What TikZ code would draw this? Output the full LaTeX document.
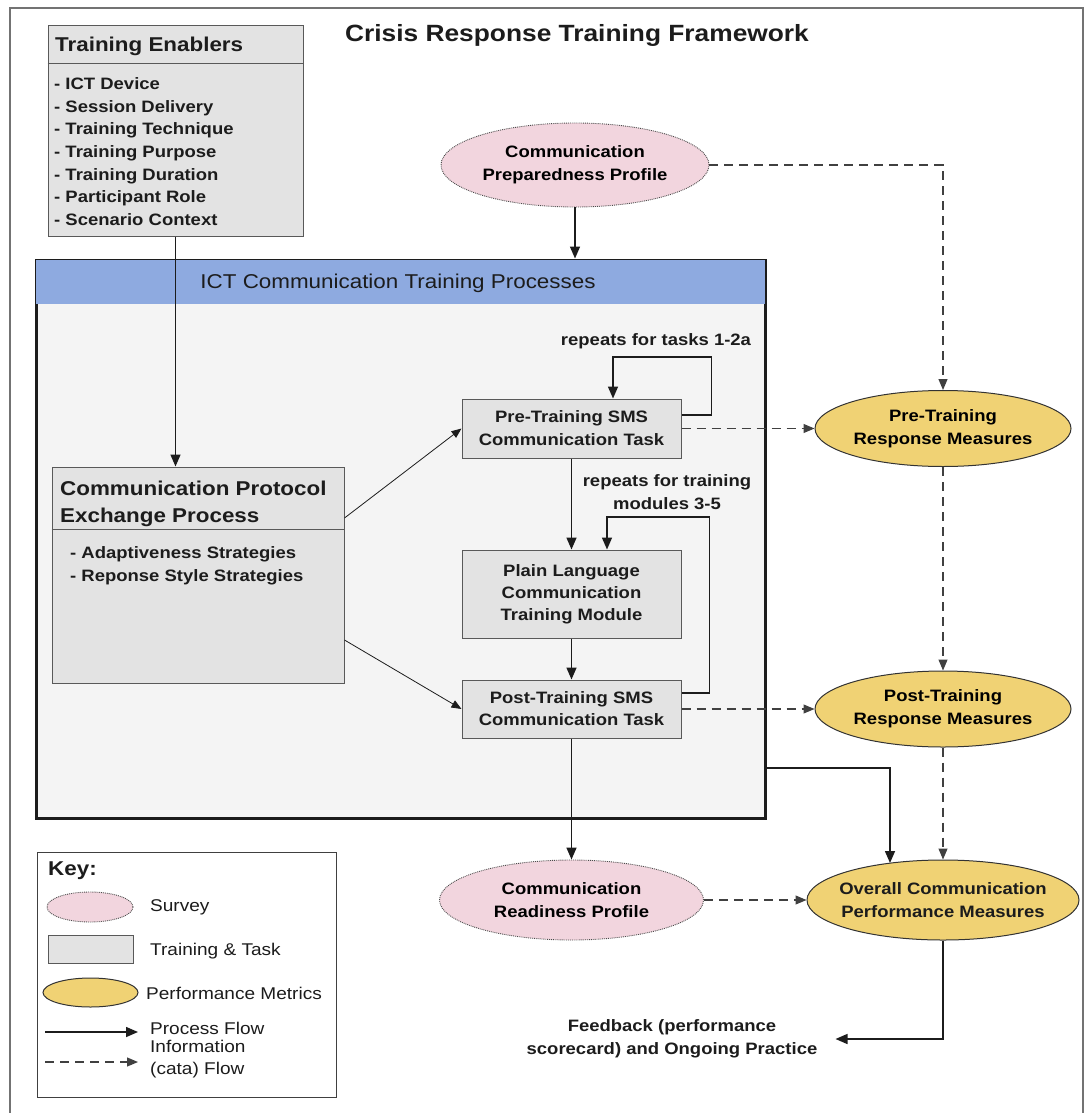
\documentclass[tikz,border=0pt]{standalone}
\usepackage{fontspec}
\setmainfont[FakeStretch=1.12]{Liberation Sans}
\usetikzlibrary{shapes.geometric,arrows.meta}

\definecolor{boxgray}{HTML}{E3E3E3}
\definecolor{panelgray}{HTML}{F4F4F4}
\definecolor{bandblue}{HTML}{8EAAE0}
\definecolor{surveypink}{HTML}{F2D5DE}
\definecolor{metricyellow}{HTML}{F0D274}
\definecolor{ink}{HTML}{1C1C1C}

\newcommand\bodyfnt{\bfseries\fontsize{16.5}{23}\selectfont}
\newcommand\keyfnt{\fontsize{17}{22}\selectfont}

\tikzset{
  graybox/.style={rectangle, draw=black!65, line width=1pt, fill=boxgray, inner sep=0pt},
  survey/.style={ellipse, draw=black!70, densely dotted, line width=0.9pt, fill=surveypink, inner sep=0pt, align=center, font=\bodyfnt},
  metric/.style={ellipse, draw=black!80, line width=1pt, fill=metricyellow, inner sep=0pt, align=center, font=\bodyfnt},
  boxtext/.style={align=center, font=\bodyfnt, text=ink},
  flow/.style={draw=ink, line width=1.5pt, -{Triangle[length=12pt,width=10pt]}},
  thinflow/.style={draw=ink, line width=0.8pt, -{Triangle[length=10pt,width=8pt]}},
  info/.style={draw=black!75, line width=1.1pt, dash pattern=on 9pt off 6pt, -{Triangle[length=11pt,width=9pt]}},
  plain/.style={inner sep=0pt, text=ink},
}

\begin{document}
\begin{tikzpicture}[x=1pt,y=-1pt]
\useasboundingbox (0,0) rectangle (1089,1113);

% page frame
\draw[black!55, line width=1.2pt] (10,1113) -- (10,8) -- (1083,8) -- (1083,1113);

% title
\node[plain, font=\bfseries\fontsize{23.5}{27}\selectfont] (title) at (577,35) {Crisis Response Training Framework};

% training enablers
\node[graybox, minimum width=255, minimum height=210] (te) at (175.5,131) {};
\draw[black!65, line width=1pt] ([yshift=-38]te.north west) -- ([yshift=-38]te.north east);
\node[plain, anchor=base west, font=\bfseries\fontsize{20}{24}\selectfont] (tehead) at (55,52) {Training Enablers};
\foreach \t [count=\i] in {ICT Device, Session Delivery, Training Technique, Training Purpose, Training Duration, Participant Role, Scenario Context}
  \node[plain, anchor=base west, font=\bodyfnt] (te\i) at (54,{67.5+22.5*\i}) {- \t};

% preparedness survey
\node[survey, minimum width=268, minimum height=84] (prep) at (575,165) {Communication\\Preparedness Profile};

% ICT processes panel
\node[rectangle, draw=ink, line width=3pt, fill=panelgray, minimum width=729, minimum height=558, inner sep=0pt] (ict) at (400.5,539) {};
\fill[bandblue] ([xshift=1.5pt,yshift=-1.5pt]ict.north west) rectangle ([xshift=-1.5pt,yshift=-45]ict.north east);
\node[plain, font=\fontsize{20}{24}\selectfont] (icthead) at (398,283) {ICT Communication Training Processes};

% protocol exchange process
\node[graybox, minimum width=292, minimum height=216] (cpep) at (198,575) {};
\draw[black!65, line width=1pt] ([yshift=-63]cpep.north west) -- ([yshift=-63]cpep.north east);
\node[plain, anchor=base west, font=\bfseries\fontsize{20}{27}\selectfont] (cpeph1) at (60,495) {Communication Protocol};
\node[plain, anchor=base west, font=\bfseries\fontsize{20}{27}\selectfont] (cpeph2) at (60,522) {Exchange Process};
\node[plain, anchor=base west, font=\bodyfnt] (cpepl1) at (70,558) {- Adaptiveness Strategies};
\node[plain, anchor=base west, font=\bodyfnt] (cpepl2) at (70,581) {- Reponse Style Strategies};

% tasks and module
\node[graybox, boxtext, minimum width=219, minimum height=59] (pre) at (571.5,428.5) {Pre-Training SMS\\Communication Task};
\node[graybox, boxtext, minimum width=219, minimum height=88, font=\bfseries\fontsize{16.5}{22}\selectfont] (plainmod) at (571.5,594) {Plain Language\\Communication\\Training Module};
\node[graybox, boxtext, minimum width=219, minimum height=58, font=\bfseries\fontsize{16.5}{22}\selectfont] (post) at (571.5,709) {Post-Training SMS\\Communication Task};

% performance measures
\node[metric, minimum width=256, minimum height=76] (prem) at (943,428.5) {Pre-Training\\Response Measures};
\node[metric, minimum width=256, minimum height=76] (postm) at (943,709) {Post-Training\\Response Measures};
\node[metric, minimum width=272, minimum height=80] (overall) at (943,900) {};
\node[boxtext, inner sep=0pt] (overallt) at (overall.center) {Overall Communication\\Performance Measures};
\node[survey, minimum width=264, minimum height=80] (ready) at (571.5,900) {Communication\\Readiness Profile};

% loop labels
\node[boxtext] (lab1) at (656,341) {repeats for tasks 1-2a};
\node[boxtext] (lab2) at (667,492) {repeats for training\\modules 3-5};

% feedback
\node[boxtext, inner xsep=18pt, inner ysep=2pt] (fb) at (672,1039) {Feedback (performance\\scorecard) and Ongoing Practice};

% process flow
\draw[flow] (prep.south) -- (prep.south |- ict.north);
\draw[flow] (te.south) -- (te.south |- cpep.north);
\draw[thinflow] ([yshift=57]cpep.east) -- (pre.west);
\draw[thinflow] ([yshift=-65]cpep.east) -- (post.west);
\draw[flow] ([yshift=13.5]pre.east) -- ++(30,0) -- ++(0,-58) -| ([xshift=41.5]pre.north);
\draw[flow] (pre.south) -- (plainmod.north);
\draw[flow] (plainmod.south) -- (post.north);
\draw[flow] ([yshift=16]post.east) -- ++(28,0) -- ++(0,-176) -| ([xshift=35.5]plainmod.north);
\draw[flow] (post.south) -- (ready.north);
\draw[flow] ([yshift=-229]ict.east) -| ([xshift=-53,yshift=37]overall.center);
\draw[flow] (overall.south) |- (fb.east);

% information flow
\draw[info] (prep.east) -| (prem.north);
\draw[info] (pre.east) -- (prem.west);
\draw[info] (post.east) -- (postm.west);
\draw[info] (prem.south) -- (postm.north);
\draw[info] (postm.south) -- (overall.north);
\draw[info] (ready.east) -- (overall.west);

% key
\node[rectangle, draw=black!75, line width=1pt, fill=white, minimum width=299, minimum height=245, inner sep=0pt] (key) at (186.5,974.5) {};
\node[plain, anchor=base west, font=\bfseries\fontsize{20}{24}\selectfont] (keyhead) at (48,875) {Key:};
\node[survey, minimum width=86, minimum height=30] (ksurvey) at (90,907) {};
\node[plain, anchor=west, font=\keyfnt] (ksurveyt) at (150,907) {Survey};
\node[graybox, minimum width=85, minimum height=28] (kbox) at (90.5,949) {};
\node[plain, anchor=west, font=\keyfnt] (kboxt) at (150,951) {Training \& Task};
\node[metric, minimum width=95, minimum height=29] (kmetric) at (90.5,992.5) {};
\node[plain, anchor=west, font=\keyfnt] (kmetrict) at (146,993) {Performance Metrics};
\coordinate (kp1) at (45,1032);
\coordinate (kp2) at (138,1032);
\draw[flow] (kp1) -- (kp2);
\node[plain, anchor=west, font=\keyfnt] (kpt) at (150,1028) {Process Flow};
\coordinate (ki1) at (45,1062);
\coordinate (ki2) at (138,1062);
\draw[info] (ki1) -- (ki2);
\node[plain, anchor=north west, align=left, font=\keyfnt] (kit) at (150,1040) {Information\\(cata) Flow};

\end{tikzpicture}
\end{document}
